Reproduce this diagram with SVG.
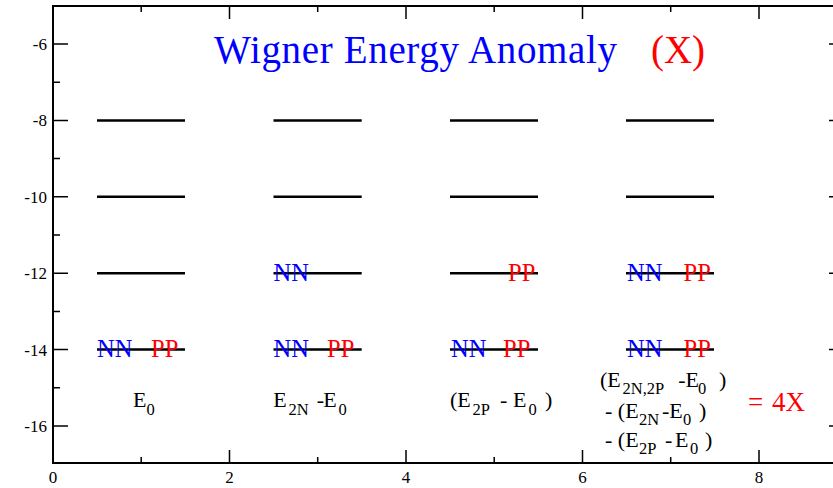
<svg xmlns="http://www.w3.org/2000/svg" width="833" height="488" viewBox="0 0 833 488">
<style>
text{font-family:'Liberation Serif','Times New Roman',Tinos,'DejaVu Serif',serif}
.ax{stroke:#000;stroke-width:2;fill:none}
.tk{stroke:#000;stroke-width:1.5}
.lvl{stroke:#000;stroke-width:2.5}
.num{font-size:17px;fill:#000}
.lab{font-size:22px;fill:#000}
.sub{font-size:16.5px}
.nn{font-size:24.5px;fill:#0000ff}
.pp{font-size:24.5px;fill:#ff0000}
.ttl{font-size:39px}
</style>
<rect width="833" height="488" fill="#fff"/>
<g id="axes">
<rect class="ax" x="53" y="6" width="791" height="457"/>
<g class="tk">
<path d="M53 44H68M53 120.4H68M53 196.8H68M53 273.2H68M53 349.6H68M53 426H68"/>
<path d="M53 82.2H60M53 158.6H60M53 235H60M53 311.4H60M53 387.8H60"/>
<path d="M844 44H829M844 120.4H829M844 196.8H829M844 273.2H829M844 349.6H829M844 426H829"/>
<path d="M229.5 463V450M406 463V450M582.5 463V450M759 463V450"/>
<path d="M141.2 463V457M317.7 463V457M494.2 463V457M670.7 463V457"/>
<path d="M229.5 6V19M406 6V19M582.5 6V19M759 6V19"/>
<path d="M141.2 6V12M317.7 6V12M494.2 6V12M670.7 6V12"/>
</g>
<g class="num" text-anchor="end">
<text x="47" y="50">-6</text>
<text x="47" y="126.4">-8</text>
<text x="47" y="202.8">-10</text>
<text x="47" y="279.2">-12</text>
<text x="47" y="355.6">-14</text>
<text x="47" y="432">-16</text>
</g>
<g class="num" text-anchor="middle">
<text x="53" y="483">0</text>
<text x="229.5" y="483">2</text>
<text x="406" y="483">4</text>
<text x="582.5" y="483">6</text>
<text x="759" y="483">8</text>
</g>
</g>
<g id="title">
<text class="ttl" x="214" y="63" fill="#0000ff" textLength="403">Wigner Energy Anomaly</text>
<text class="ttl" x="651" y="63" fill="#ff0000" textLength="54">(X)</text>
</g>
<g id="levels-E0">
<path class="lvl" d="M97 120.4H185M97 196.8H185M97 273.2H185M97 349.6H185"/>
<text class="nn" x="97" y="357">NN</text>
<text class="pp" x="151" y="357">PP</text>
<text class="lab" x="133" y="407">E<tspan class="sub" dy="8">0</tspan></text>
</g>
<g id="levels-E2N">
<path class="lvl" d="M273.5 120.4H361.7M273.5 196.8H361.7M273.5 273.2H361.7M273.5 349.6H361.7"/>
<text class="nn" x="273.5" y="281">NN</text>
<text class="nn" x="273.5" y="357">NN</text>
<text class="pp" x="327" y="357">PP</text>
<text class="lab" x="273.3" y="407">E<tspan class="sub" x="288.5" dy="8">2N</tspan><tspan x="316.7" dy="-8">-</tspan><tspan x="323.3">E</tspan><tspan class="sub" x="338.5" dy="8">0</tspan></text>
</g>
<g id="levels-E2P">
<path class="lvl" d="M450 120.4H538M450 196.8H538M450 273.2H538M450 349.6H538"/>
<text class="pp" x="508" y="281">PP</text>
<text class="nn" x="451" y="357">NN</text>
<text class="pp" x="503" y="357">PP</text>
<text class="lab" x="450" y="407">(E<tspan class="sub" x="472.5" dy="8">2P</tspan><tspan x="500" dy="-8">-</tspan><tspan x="513">E</tspan><tspan class="sub" x="528.5" dy="8">0</tspan><tspan x="545" dy="-8">)</tspan></text>
</g>
<g id="levels-E2N2P">
<path class="lvl" d="M626 120.4H714M626 196.8H714M626 273.2H714M626 349.6H714"/>
<text class="nn" x="627" y="281">NN</text>
<text class="pp" x="683.5" y="281">PP</text>
<text class="nn" x="627" y="357">NN</text>
<text class="pp" x="683.5" y="357">PP</text>
<text class="lab" x="600" y="387">(E<tspan class="sub" x="622.5" dy="7">2N,2P</tspan><tspan x="678.3" dy="-7">-E</tspan><tspan class="sub" x="698" dy="7">0</tspan><tspan x="719" dy="-7">)</tspan></text>
<text class="lab" x="605" y="418">- (E<tspan class="sub" x="639" dy="7">2N</tspan><tspan x="662" dy="-7">-E</tspan><tspan class="sub" x="683" dy="7">0</tspan><tspan x="699" dy="-7">)</tspan></text>
<text class="lab" x="605" y="447">- (E<tspan class="sub" x="639" dy="7">2P</tspan><tspan x="665" dy="-7">-</tspan><tspan x="675">E</tspan><tspan class="sub" x="690" dy="7">0</tspan><tspan x="705" dy="-7">)</tspan></text>
<text x="748" y="411" font-size="27" fill="#ff0000">=<tspan x="772">4X</tspan></text>
</g>
</svg>
